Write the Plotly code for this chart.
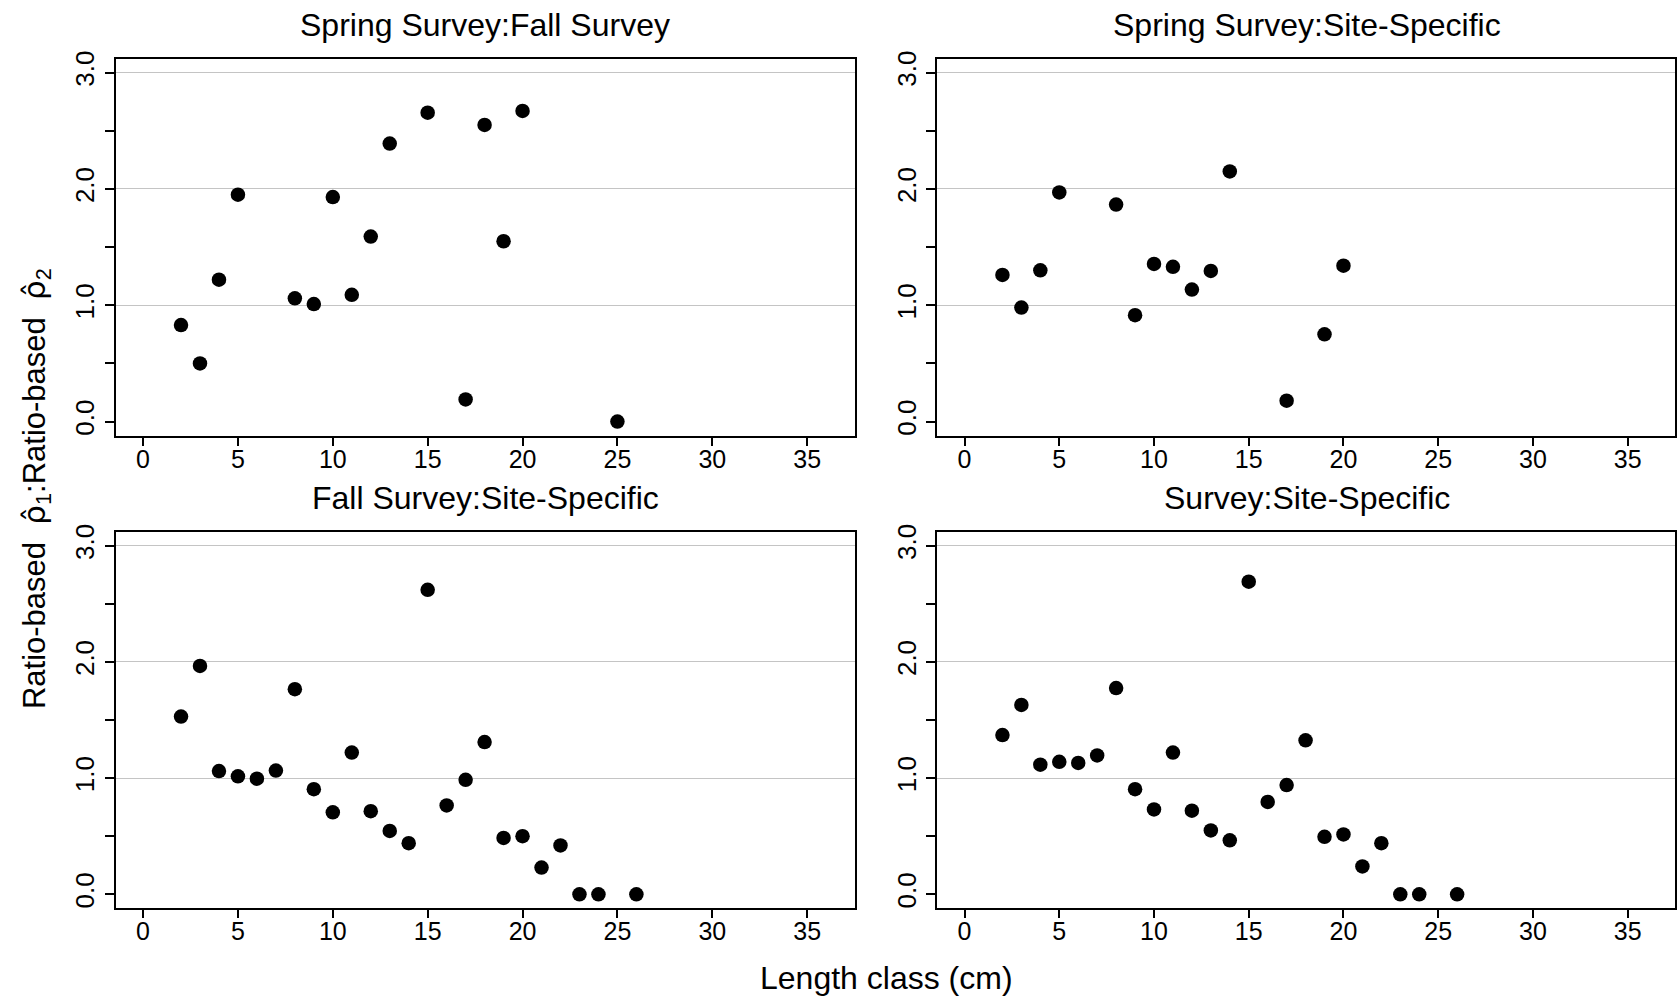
import plotly.graph_objects as go

# ---- data ----
titles = ["Spring Survey:Fall Survey", "Spring Survey:Site-Specific",
          "Fall Survey:Site-Specific", "Survey:Site-Specific"]

x_ss_fs = [2, 3, 4, 5, 8, 9, 10, 11, 12, 13, 15, 17, 18, 19, 20, 25]
y_ss_fs = [0.83, 0.50, 1.22, 1.95, 1.06, 1.01, 1.93, 1.09, 1.59, 2.39, 2.655, 0.19, 2.55, 1.55, 2.67, 0.0]

x_ss_site = [2, 3, 4, 5, 8, 9, 10, 11, 12, 13, 14, 17, 19, 20]
y_ss_site = [1.26, 0.98, 1.30, 1.97, 1.865, 0.915, 1.355, 1.33, 1.135, 1.295, 2.15, 0.18, 0.75, 1.34]

x_fs_site = [2, 3, 4, 5, 6, 7, 8, 9, 10, 11, 12, 13, 14, 15, 16, 17, 18, 19, 20, 21, 22, 23, 24, 26]
y_fs_site = [1.53, 1.965, 1.06, 1.015, 0.995, 1.065, 1.765, 0.905, 0.705, 1.22, 0.715, 0.545, 0.44,
             2.62, 0.765, 0.985, 1.31, 0.485, 0.50, 0.23, 0.42, 0.0, 0.0, 0.0]

x_sv_site = [2, 3, 4, 5, 6, 7, 8, 9, 10, 11, 12, 13, 14, 15, 16, 17, 18, 19, 20, 21, 22, 23, 24, 26]
y_sv_site = [1.37, 1.63, 1.115, 1.14, 1.13, 1.195, 1.775, 0.905, 0.73, 1.22, 0.72, 0.55, 0.465,
             2.69, 0.795, 0.94, 1.325, 0.495, 0.515, 0.24, 0.44, 0.0, 0.0, 0.0]

x_ticks = [0, 5, 10, 15, 20, 25, 30, 35]
y_ticks = [0, 1, 2, 3]
y_ticktext = ["0.0", "1.0", "2.0", "3.0"]
x_title = "Length class (cm)"
RHO_HAT = "<span style=\"font-family:'DejaVu Sans'\">\u03c1\u0302</span>"
y_title = f"Ratio-based  {RHO_HAT}<sub>1</sub>:Ratio-based  {RHO_HAT}<sub>2</sub>"

series = [(x_ss_fs, y_ss_fs), (x_ss_site, y_ss_site), (x_fs_site, y_fs_site), (x_sv_site, y_sv_site)]

# ---- layout geometry ----
W, H = 1677, 998
FONT = "Arial, Liberation Sans, sans-serif"
xdom = [[115.7 / W, 855.6 / W], [938.2 / W, 1.0]]
ydom = [[(H - 431) / H, (H - 51) / H], [(H - 907.5) / H, (H - 528) / H]]

fig = go.Figure()
annotations = []
for i, (xs, ys) in enumerate(series):
    r, c = divmod(i, 2)
    n = i + 1
    xa = "x" if n == 1 else f"x{n}"
    ya = "y" if n == 1 else f"y{n}"
    fig.add_trace(go.Scatter(x=xs, y=ys, mode="markers", xaxis=xa, yaxis=ya,
                             marker=dict(color="black", size=14.5, line=dict(width=0)),
                             showlegend=False, cliponaxis=False))
    xkey = "xaxis" if n == 1 else f"xaxis{n}"
    ykey = "yaxis" if n == 1 else f"yaxis{n}"
    fig.layout[xkey] = dict(
        domain=xdom[c], anchor=ya, range=[-1.45, 37.5],
        tickvals=x_ticks, ticks="outside", ticklen=8, tickwidth=2, tickcolor="black",
        ticklabelstandoff=-8,
        showline=True, linecolor="black", linewidth=2, mirror=True,
        showgrid=False, zeroline=False,
        tickfont=dict(family=FONT, size=25, color="black"),
    )
    fig.layout[ykey] = dict(
        domain=ydom[r], anchor=xa, range=[-0.12, 3.12],
        tickvals=y_ticks, ticktext=y_ticktext, tickangle=-90,
        ticks="outside", ticklen=9, tickwidth=2, tickcolor="black",
        minor=dict(dtick=0.5, tick0=0, ticks="outside", ticklen=9, tickwidth=2,
                   tickcolor="black", showgrid=False),
        showline=True, linecolor="black", linewidth=2, mirror=True,
        showgrid=True, gridcolor="#c4c4c4", gridwidth=1,
        zeroline=True, zerolinecolor="white", zerolinewidth=2,
        tickfont=dict(family=FONT, size=26, color="black"),
    )
    cx = (xdom[c][0] + (855.6 / W if c == 0 else 1678.3 / W)) / 2
    ty = (H - (17 if r == 0 else 494)) / H
    annotations.append(dict(text=titles[i], x=cx, y=ty, xref="paper", yref="paper",
                            xanchor="center", yanchor="middle", showarrow=False,
                            font=dict(family=FONT, size=32, color="black")))

annotations.append(dict(text=x_title, x=887.5 / W, y=(H - 978) / H, xref="paper", yref="paper",
                        xanchor="center", yanchor="middle", showarrow=False,
                        font=dict(family=FONT, size=32, color="black")))
annotations.append(dict(text=y_title, x=36 / W, y=(H - 484) / H, xref="paper", yref="paper",
                        xanchor="center", yanchor="middle", showarrow=False, textangle=-90,
                        font=dict(family=FONT, size=31, color="black")))

fig.update_layout(width=W, height=H, margin=dict(l=0, r=0, t=0, b=0),
                  paper_bgcolor="white", plot_bgcolor="white",
                  annotations=annotations)

fig.write_html("out.html")
